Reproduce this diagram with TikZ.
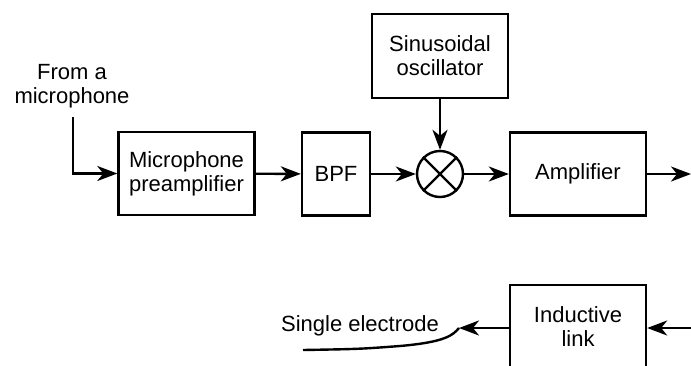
\documentclass[tikz,border=0pt]{standalone}
\usepackage{fontspec}
\setmainfont{Liberation Sans}
\usetikzlibrary{arrows.meta}
\tikzset{
	block/.style={draw, line width=1.2pt, minimum width=68pt, minimum height=41.5pt, align=center, inner sep=0pt},
	sig/.style={line width=1.2pt, -{Stealth[length=10pt,width=7.5pt,inset=3pt]}},
	wire/.style={line width=1.2pt}
}
\begin{document}
\begin{tikzpicture}[x=0.5pt, y=-0.5pt, font=\fontsize{11}{12}\selectfont]
	\useasboundingbox (0,0) rectangle (691,365);
	\clip (0,0) rectangle (691,365);
	
	% upper chain
	\node[align=center] (src) at (72,86) {From a\\microphone};
	\coordinate (in) at (73,117);
	\node[block] (pre) at (186.5,173.5) {Microphone\\preamplifier};
	\node[block, minimum width=34pt] (bpf) at (336,174) {BPF};
	\node[block, minimum height=42pt] (osc) at (440,56) {Sinusoidal\\oscillator};
	\node[draw, circle, line width=1.2pt, minimum size=23pt, inner sep=0pt] (mix) at (440,174) {};
	\node[block] (amp) at (578,174) {Amplifier};
	\coordinate (out) at (691,174);
	
	\draw[wire] (mix.45) -- (mix.225) (mix.135) -- (mix.315);
	
	\draw[sig] (in) |- (pre);
	\draw[sig] (pre) -- (bpf);
	\draw[sig] (bpf) -- (mix);
	\draw[sig] (osc) -- (mix);
	\draw[sig] (mix) -- (amp);
	\draw[sig] (amp) -- (out);
	
	% lower chain
	\node[block, minimum height=42pt] (link) at (578,327) {Inductive\\link};
	\coordinate (rx) at (691,328);
	\coordinate (tip) at (459,328);
	\coordinate (end) at (303,350);
	\node (elec) at (360,326) {Single electrode};
	
	\draw[sig] (rx) -- (link.east |- rx);
	\draw[sig] (link.west |- tip) -- (tip);
	\draw[wire] (tip) .. controls (453,335) and (446,342) .. (400,346) .. controls (360,349) .. (end);
\end{tikzpicture}
\end{document}
